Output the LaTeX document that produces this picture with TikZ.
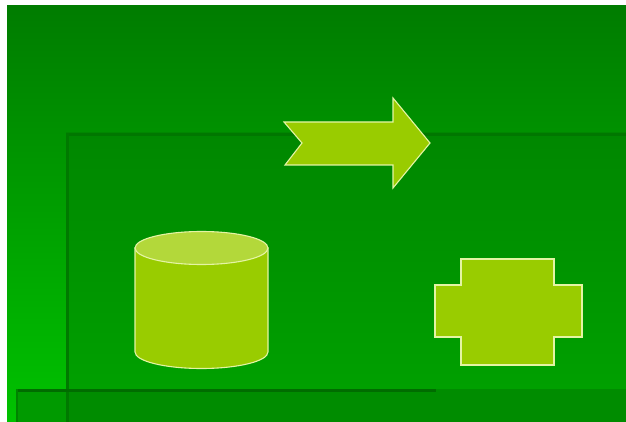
\documentclass[tikz,border=0pt]{standalone}
\usepackage{xcolor}
\usepackage{tikz}
\usetikzlibrary{calc}
\definecolor{vertHaut}{HTML}{007C00}
\definecolor{vertBas}{HTML}{00C200}
\definecolor{vertCadreH}{HTML}{008700}
\definecolor{vertCadreB}{HTML}{00A000}
\definecolor{vertBande}{HTML}{008C00}
\definecolor{ombre}{HTML}{006400}
\definecolor{jaune}{HTML}{99CC00}
\definecolor{jauneClair}{HTML}{B3D83A}
\definecolor{bord}{HTML}{E4F4A4}
\tikzset{
	forme/.style={fill=jaune, draw=bord, line width=1.1pt, line join=miter}
}

\begin{document}
\begin{tikzpicture}[x=1pt,y=-1pt]
				\def\largeur{626}
				\def\hauteur{422}
				\useasboundingbox (0,0) rectangle (\largeur,\hauteur);
				
				%Fond
				\fill[white] (0,0) rectangle (\largeur,\hauteur);
				\shade[top color=vertHaut, bottom color=vertBas] (7,6) rectangle (\largeur,\hauteur);
				
				%Cadre interieur
				\shade[top color=vertCadreH, bottom color=vertCadreB] (66,133) rectangle (\largeur,389);
				\fill[vertBande] (18,389) rectangle (\largeur,\hauteur);
				\fill[vertCadreB!70!vertBande] (18,389) rectangle (66,\hauteur);
				
				%Ombres
				\draw[ombre!45!vertCadreH, line width=3pt] (66,134.5) -- (\largeur,134.5);
				\draw[ombre!40!vertCadreH, line width=3pt] (67.5,133) -- (67.5,\hauteur);
				\draw[ombre!80!vertBande, line width=3pt] (18,390.5) -- (436,390.5);
				\draw[ombre!25!vertBande, line width=2pt] (17,389) -- (17,\hauteur);
				
				%Fleche
				\coordinate (F1) at (284,122);
				\coordinate (F2) at (393,122);
				\coordinate (F3) at (393,98);
				\coordinate (F4) at (430,143);
				\coordinate (F5) at (393,188);
				\coordinate (F6) at (393,165);
				\coordinate (F7) at (285,165);
				\coordinate (F8) at (302,143);
				\filldraw[forme] (F1) -- (F2) -- (F3) -- (F4) -- (F5) -- (F6) -- (F7) -- (F8) -- cycle;
				
				%Cylindre
				\def\cx{201.5}
				\def\rx{66.5}
				\def\ry{16.5}
				\filldraw[forme] (\cx-\rx,248) -- (\cx-\rx,352)
					arc[start angle=180, end angle=360, x radius=\rx pt, y radius=\ry pt]
					-- (\cx+\rx,248) -- cycle;
				\filldraw[forme, fill=jauneClair] (\cx,248) ellipse[x radius=\rx pt, y radius=\ry pt];
				
				%Croix
				\filldraw[forme] (461,259) -- (554,259) -- (554,285) -- (582,285) -- (582,337) -- (554,337)
					-- (554,365) -- (461,365) -- (461,337) -- (435,337) -- (435,285) -- (461,285) -- cycle;
				
\end{tikzpicture}
\end{document}
